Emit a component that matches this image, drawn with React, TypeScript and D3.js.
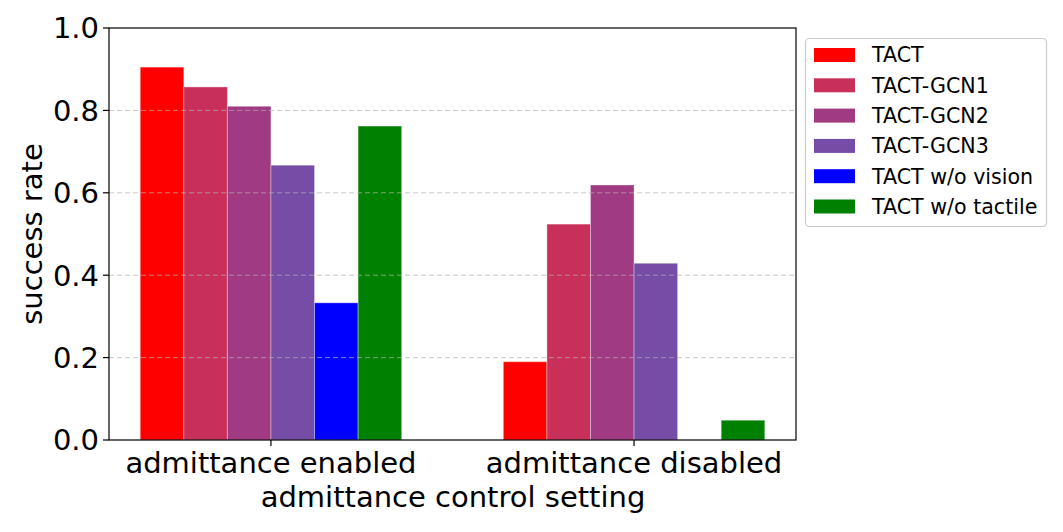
import React from "react";
import * as d3 from "d3";

const groups = ["admittance enabled", "admittance disabled"];
const seriesNames = ["TACT", "TACT-GCN1", "TACT-GCN2", "TACT-GCN3", "TACT w/o vision", "TACT w/o tactile"];
const seriesColors = ["#ff0000", "#c8305a", "#a03a82", "#754ca6", "#0000ff", "#008000"];
const enabledValues = [0.905, 0.857, 0.81, 0.667, 0.333, 0.762];
const disabledValues = [0.19, 0.524, 0.619, 0.429, 0.0, 0.048];
const yTicks = [0.0, 0.2, 0.4, 0.6, 0.8, 1.0];
const gridTicks = [0.2, 0.4, 0.6, 0.8];

const W = 1063, H = 532;
const left = 109, right = 796, top = 28, bottom = 440;
const barW = 0.12;
const FONT = "DejaVu Sans, Verdana, sans-serif";

export default function App() {
  const x = d3.scaleLinear().domain([-0.446, 1.446]).range([left, right]);
  const y = d3.scaleLinear().domain([0, 1]).range([bottom, top]);
  const values = [enabledValues, disabledValues];

  return (
    <svg width={W} height={H} style={{ position: "absolute", left: 0, top: 0, background: "#fff" }} fontFamily={FONT}>
      <rect x={0} y={0} width={W} height={H} fill="#fff" />
      {values.map((vals, gi) =>
        vals.map((v, si) => {
          const x0 = x(gi + (si - 2.5) * barW - barW / 2);
          const x1 = x(gi + (si - 2.5) * barW + barW / 2);
          return (
            <rect key={`${gi}-${si}`} x={x0} y={y(v)} width={x1 - x0} height={y(0) - y(v)} fill={seriesColors[si]} stroke={v > 0 ? "#ffffff" : "none"} strokeOpacity={0.35} strokeWidth={1} />
          );
        })
      )}
      {gridTicks.map((t) => (
        <line key={t} x1={left} x2={right} y1={y(t)} y2={y(t)} stroke="#b0b0b0" strokeOpacity={0.7} strokeDasharray="5,3" strokeWidth={1} />
      ))}
      <rect x={left} y={top} width={right - left} height={bottom - top} fill="none" stroke="#000" strokeWidth={1.2} />
      {yTicks.map((t) => (
        <g key={t}>
          <line x1={left - 6} x2={left} y1={y(t)} y2={y(t)} stroke="#000" strokeWidth={1.2} />
          <text x={left - 10} y={y(t)} dy="0.36em" textAnchor="end" fontSize={29} fill="#000">{t.toFixed(1)}</text>
        </g>
      ))}
      {groups.map((g, gi) => (
        <g key={g}>
          <line x1={x(gi)} x2={x(gi)} y1={bottom} y2={bottom + 6} stroke="#000" strokeWidth={1.2} />
          <text x={x(gi)} y={bottom + 33} textAnchor="middle" fontSize={29} fill="#000">{g}</text>
        </g>
      ))}
      <text x={453} y={507} textAnchor="middle" fontSize={29} fill="#000">admittance control setting</text>
      <text transform={`translate(42,${(top + bottom) / 2}) rotate(-90)`} textAnchor="middle" fontSize={29} fill="#000">success rate</text>
      <g>
        <rect x={805.5} y={38.5} width={241} height={188} rx={4} fill="#fff" stroke="#cccccc" strokeWidth={1.2} />
        {seriesNames.map((n, i) => (
          <g key={n} transform={`translate(0,${55 + i * 30.3})`}>
            <rect x={814} y={-7} width={41} height={14} fill={seriesColors[i]} />
            <text x={872} y={0} dy="0.36em" fontSize={20.6} fill="#000">{n}</text>
          </g>
        ))}
      </g>
    </svg>
  );
}
